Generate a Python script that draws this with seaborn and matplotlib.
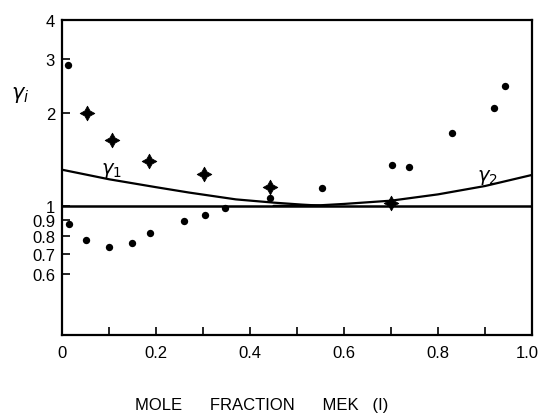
import numpy as np
import pandas as pd
import matplotlib
matplotlib.use("Agg")
import matplotlib.pyplot as plt
import matplotlib.transforms as mtransforms
import seaborn as sns
from matplotlib.ticker import FixedLocator, FixedFormatter, NullLocator

# ---- data ----
dot_x = [0.013, 0.015, 0.051, 0.100, 0.149, 0.187, 0.259, 0.304, 0.347,
         0.443, 0.553, 0.702, 0.738, 0.830, 0.919, 0.943]
dot_y = [2.85, 0.877, 0.777, 0.738, 0.759, 0.816, 0.895, 0.932, 0.983,
         1.064, 1.14, 1.355, 1.334, 1.725, 2.07, 2.45]

star_x = [0.053, 0.106, 0.185, 0.302, 0.443, 0.700]
star_y = [2.00, 1.63, 1.40, 1.27, 1.15, 1.02]

g1_x = [0.0, 0.1, 0.2, 0.27, 0.37, 0.45, 0.51, 0.56]
g1_y = [1.31, 1.22, 1.15, 1.105, 1.05, 1.025, 1.01, 1.0]

g2_x = [0.45, 0.55, 0.6, 0.7, 0.8, 0.9, 1.0]
g2_y = [1.0, 1.005, 1.015, 1.04, 1.09, 1.16, 1.26]

ytick_vals = [0.6, 0.7, 0.8, 0.9, 1, 2, 3, 4]
ytick_labels = ["0.6", "0.7", "0.8", "0.9", "1", "2", "3", "4"]
xtick_vals = [0.0, 0.2, 0.4, 0.6, 0.8, 1.0]
xtick_labels = ["0", "0.2", "0.4", "0.6", "0.8", "1.0"]
xminor_vals = [0.1, 0.3, 0.5, 0.7, 0.9]

sns.set_style("ticks")
plt.rcParams['font.family'] = ['Liberation Sans', 'DejaVu Sans']

fig = plt.figure(figsize=(5.4, 4.14), dpi=100)
ax = fig.add_axes([0.1148, 0.1884, 0.8704, 0.7609])

dots = pd.DataFrame({"x": dot_x, "y": dot_y})
stars = pd.DataFrame({"x": star_x, "y": star_y})
g1 = pd.DataFrame({"x": g1_x, "y": g1_y})
g2 = pd.DataFrame({"x": g2_x, "y": g2_y})

ax.set_yscale("log")
sns.lineplot(data=g1, x="x", y="y", ax=ax, color="black", lw=1.6, sort=False, estimator=None)
sns.lineplot(data=g2, x="x", y="y", ax=ax, color="black", lw=1.6, sort=False, estimator=None)
ax.axhline(1.0, color="black", lw=1.8)
sns.scatterplot(data=dots, x="x", y="y", ax=ax, color="black", s=28, marker="o",
                edgecolor="black", linewidth=0)
sns.scatterplot(data=stars, x="x", y="y", ax=ax, color="black", s=110, marker=(4, 1, 0),
                edgecolor="black", linewidth=0.6)

ax.set_xlim(0, 1.0)
ax.set_ylim(0.382, 4)

ax.yaxis.set_major_locator(FixedLocator(ytick_vals))
ax.yaxis.set_major_formatter(FixedFormatter(ytick_labels))
ax.yaxis.set_minor_locator(NullLocator())
ax.xaxis.set_major_locator(FixedLocator(xtick_vals))
ax.xaxis.set_major_formatter(FixedFormatter(xtick_labels))
ax.xaxis.set_minor_locator(FixedLocator(xminor_vals))

ax.tick_params(axis="both", which="both", direction="in", length=6, width=1.2,
               colors="black", labelsize=12)
ax.tick_params(axis="y", pad=5)
ax.tick_params(axis="x", pad=7)
for s in ax.spines.values():
    s.set_visible(True)
    s.set_color("black")
    s.set_linewidth(1.6)

ax.set_xlabel("")
ax.set_ylabel("")

# nudge the last x tick label so it stays inside the figure
fig.canvas.draw()
last = ax.get_xticklabels()[-1]
last.set_transform(last.get_transform() +
                   mtransforms.ScaledTranslation(-5 / 100, 0, fig.dpi_scale_trans))

fig.text(0.485, 0.02, "MOLE      FRACTION      MEK   (I)", ha="center", va="center",
         fontsize=12, color="black")
fig.text(0.037, 0.77, r"$\gamma_i$", ha="center", va="center", fontsize=15, color="black")
ax.text(0.105, 1.22, r"$\gamma_1$", ha="center", va="bottom", fontsize=14, color="black")
ax.text(0.905, 1.16, r"$\gamma_2$", ha="center", va="bottom", fontsize=14, color="black")

fig.savefig("out.png", dpi=100)
